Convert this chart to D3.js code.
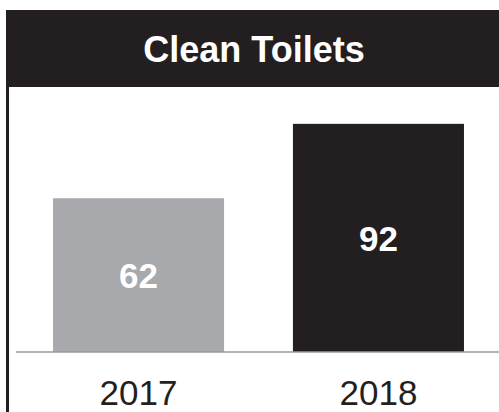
<!DOCTYPE html>
<html>
<head>
<meta charset="utf-8">
<script src="https://cdn.jsdelivr.net/npm/d3@7"></script>
<style>
  html, body { margin: 0; padding: 0; background: #fff; }
  svg { display: block; }
</style>
</head>
<body>
<svg id="chart" width="499" height="412"></svg>
<script>
// Chart data
const title = "Clean Toilets";
const years = ["2017", "2018"];
const scores = [62, 92];
const barColors = ["#a7a9ac", "#231f20"];

const W = 499, H = 412;
const dark = "#231f20";
const svg = d3.select("#chart");

// Header band
svg.append("rect")
  .attr("x", 6).attr("y", 10)
  .attr("width", W - 6).attr("height", 77)
  .attr("fill", dark);

svg.append("text")
  .attr("x", 254).attr("y", 61.5)
  .attr("text-anchor", "middle")
  .attr("fill", "#fff")
  .style("font-family", "Liberation Sans, Arial, sans-serif")
  .style("font-weight", "bold")
  .style("font-size", "36px")
  .text(title);

// Left frame rule
svg.append("line")
  .attr("x1", 7.5).attr("x2", 7.5)
  .attr("y1", 87).attr("y2", H)
  .attr("stroke", dark).attr("stroke-width", 3);

// Scales
const x = d3.scaleBand()
  .domain(years)
  .range([18, 499])
  .paddingInner(0.287)
  .paddingOuter(0.146);

const y = d3.scaleLinear()
  .domain([0, 100])
  .range([352, 104]);

const data = years.map((yr, i) => ({ year: yr, value: scores[i], color: barColors[i] }));

// Bars
svg.selectAll("rect.bar")
  .data(data)
  .join("rect")
  .attr("class", "bar")
  .attr("x", d => x(d.year))
  .attr("y", d => y(d.value))
  .attr("width", x.bandwidth())
  .attr("height", d => y(0) - y(d.value))
  .attr("fill", d => d.color);

// Value labels centred in each bar
svg.selectAll("text.value")
  .data(data)
  .join("text")
  .attr("class", "value")
  .attr("x", d => x(d.year) + x.bandwidth() / 2)
  .attr("y", d => (y(d.value) + y(0)) / 2)
  .attr("dy", "0.36em")
  .attr("text-anchor", "middle")
  .attr("fill", "#fff")
  .style("font-family", "Liberation Sans, Arial, sans-serif")
  .style("font-weight", "bold")
  .style("font-size", "35px")
  .text(d => d.value);

// Baseline
svg.append("line")
  .attr("x1", 16).attr("x2", W)
  .attr("y1", y(0)).attr("y2", y(0))
  .attr("stroke", "#9a9a9c").attr("stroke-width", 1.5);

// Category axis labels
const axis = svg.append("g")
  .attr("transform", `translate(0,${y(0)})`)
  .call(d3.axisBottom(x).tickSize(0).tickPadding(28));
axis.select(".domain").remove();
axis.selectAll("text")
  .attr("dy", "0.71em")
  .attr("fill", dark)
  .style("font-family", "Liberation Sans, Arial, sans-serif")
  .style("font-size", "35px");
</script>
</body>
</html>
